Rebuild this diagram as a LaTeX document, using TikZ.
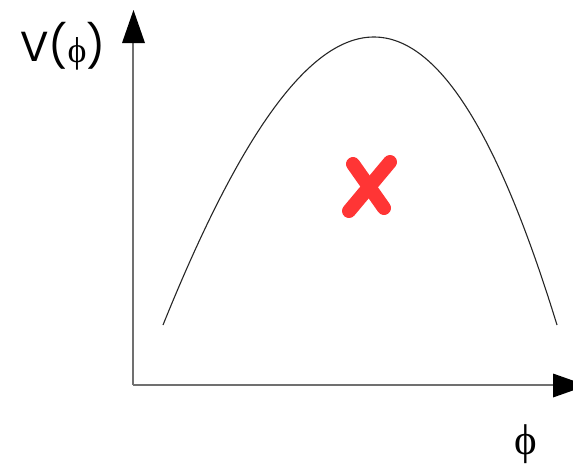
\documentclass[tikz,border=0pt]{standalone}
\usepackage{fontspec}
\newfontfamily\labsans{Poppins}
\newfontfamily\labserif{Liberation Serif}
\definecolor{axisgray}{HTML}{707070}
\definecolor{xred}{HTML}{FF3535}
\tikzset{
  axisline/.style={draw=axisgray, line width=1.6pt},
  tiphead/.style={fill=black, draw=none},
  curveline/.style={draw=black!85, line width=1.1pt},
  crossstroke/.style={draw=xred, line width=14pt, line cap=round},
}
\begin{document}
\begin{tikzpicture}[x=1pt,y=-1pt]
\useasboundingbox (0,0) rectangle (573,464);
\clip (0,0) rectangle (573,464);
% axes
\coordinate (origin) at (133,385);
\coordinate (ytop) at (133,42);
\coordinate (xend) at (553,385);
\draw[axisline] (origin) -- (ytop);
\draw[axisline] (origin) -- (xend);
\fill[tiphead] (122,43) -- (133.5,10) -- (145,43) -- cycle;
\fill[tiphead] (553,373.5) -- (587,385.5) -- (553,397.5) -- cycle;
% curve
\coordinate (cstart) at (163,325);
\coordinate (cend) at (557,325);
\draw[curveline] (cstart) .. controls (318,-59) and (439,-59) .. (cend);
% red cross
\coordinate (a1) at (353,164);
\coordinate (a2) at (384,208);
\coordinate (b1) at (390,162);
\coordinate (b2) at (349,211);
\draw[crossstroke] (a1) -- (a2);
\draw[crossstroke] (b1) -- (b2);
% labels
\node[anchor=base west, inner sep=0pt] (vlabel) at (20,61)
  {\fontsize{42}{42}\selectfont\labsans V(\raisebox{-1pt}{\fontsize{36}{36}\selectfont\labserif ϕ})};
\node[anchor=base, inner sep=0pt] (philabel) at (526,454)
  {\fontsize{43}{43}\selectfont\labserif ϕ};
\end{tikzpicture}
\end{document}
